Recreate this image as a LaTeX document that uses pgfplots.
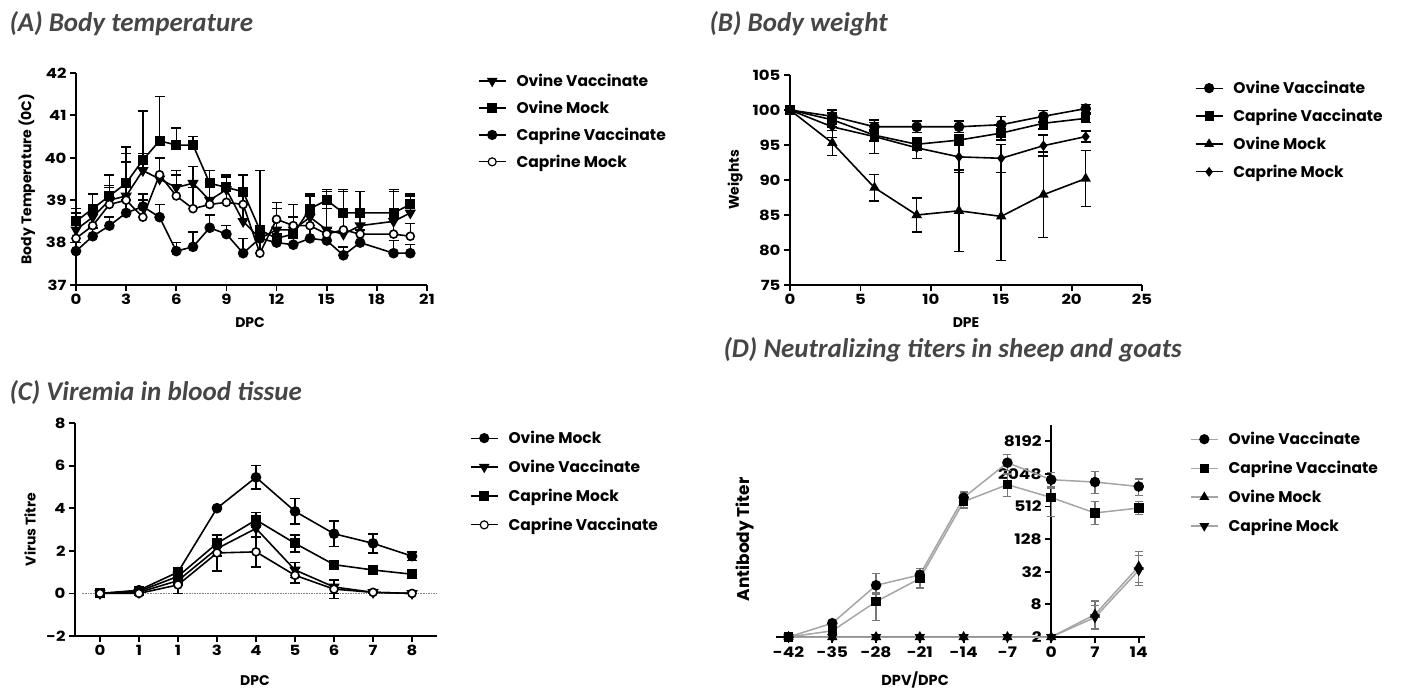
\documentclass[border=0pt]{standalone}
\usepackage{fontspec}
\setmainfont{Poppins}
\newfontfamily\tickfont{Poppins}[FakeStretch=1.18]
\newfontfamily\titlefont{Carlito}
\usepackage{pgfplots}
\pgfplotsset{compat=1.18}
\definecolor{titlegray}{RGB}{70,70,70}
\definecolor{dline}{RGB}{165,165,165}
\definecolor{dbar}{RGB}{120,120,120}
\newcommand\lblfont{\fontsize{14}{14}\selectfont\bfseries}
\begin{document}
\begin{tikzpicture}
\path[use as bounding box] (0pt,0pt) rectangle (1415pt,688pt);
\pgfplotsset{
  gp/.style={
    scale only axis,
    axis lines*=left,
    axis line style={line width=2pt},
    tick align=outside,
    major tick length=6pt,
    tick style={line width=1.8pt, black},
    ticklabel style={font=\tickfont\fontsize{14}{14}\selectfont\bfseries},
    /pgf/number format/assume math mode=true,
    legend style={draw=none, fill=none, anchor=north west, font=\fontsize{15.5}{15.5}\selectfont\bfseries, row sep=8pt, inner sep=0pt, legend cell align=left},
    legend image code/.code={\draw[mark repeat=2,mark phase=2,line width=1.2pt] plot coordinates {(0pt,0pt) (13.5pt,0pt) (27pt,0pt)}; \path (35pt,0pt);},
    every axis plot/.append style={line width=1.6pt, mark size=4.5pt},
    clip=false,
  },
  ebu/.style={/pgfplots/error bars/y dir=plus, /pgfplots/error bars/y explicit, /pgfplots/error bars/error bar style={line width=1.5pt}, /pgfplots/error bars/error mark options={rotate=90, mark size=5pt, line width=1.5pt}},
  ebb/.style={/pgfplots/error bars/y dir=both, /pgfplots/error bars/y explicit, /pgfplots/error bars/error bar style={line width=1.5pt}, /pgfplots/error bars/error mark options={rotate=90, mark size=5pt, line width=1.5pt}},
}
% ---------- titles ----------
\node[anchor=west, font=\titlefont\bfseries\itshape\fontsize{27}{27}\selectfont, text=titlegray] at (6pt,664pt) {(A) Body temperature};
\node[anchor=west, font=\titlefont\bfseries\itshape\fontsize{27}{27}\selectfont, text=titlegray] at (706pt,664pt) {(B) Body weight};
\node[anchor=west, font=\titlefont\bfseries\itshape\fontsize{27}{27}\selectfont, text=titlegray] at (6pt,295pt) {(C) Viremia in blood tissue};
\node[anchor=west, font=\titlefont\bfseries\itshape\fontsize{27}{27}\selectfont, text=titlegray] at (720pt,338pt) {(D) Neutralizing titers in sheep and goats};

% ---------- (A) ----------
\begin{axis}[gp, at={(76pt,403pt)}, anchor=south west, width=351pt, height=212pt,
  xmin=0, xmax=21, ymin=37, ymax=42,
  xtick={0,3,...,21}, ytick={37,38,...,42},
  xlabel={DPC}, ylabel={Body Temperature (0C)},
  every axis y label/.style={at={(axis description cs:-0.14,0.5)}, rotate=90, anchor=center, font=\lblfont},
  every axis x label/.style={at={(axis description cs:0.496,-0.175)}, anchor=center, font=\lblfont},
  legend style={at={(rel axis cs:1.145,1.005)}, row sep=9pt}]
\addplot[black, ebu, mark=triangle*, mark options={rotate=180, fill=black}, mark size=5pt] coordinates {
(0,38.3)+-(0,0.4) (1,38.6)+-(0,0.3) (2,39.0)+-(0,0.35) (3,39.1)+-(0,1.0) (4,39.7)+-(0,0.4)
(5,39.5)+-(0,0.5) (6,39.3)+-(0,0.4) (7,39.4)+-(0,0.4) (8,39.0)+-(0,0.4) (9,39.25)+-(0,0.3)
(10,38.5)+-(0,0.7) (11,38.1)+-(0,1.6) (12,38.3)+-(0,0.5) (13,38.3)+-(0,0.6) (14,38.6)+-(0,0.5)
(15,38.3)+-(0,0.9) (16,38.2)+-(0,1.0) (17,38.4)+-(0,0.8) (19,38.5)+-(0,0.7) (20,38.7)+-(0,0.4)};
\addlegendentry{Ovine Vaccinate}
\addplot[black, ebu, mark=square*, mark options={fill=black}, mark size=4.2pt] coordinates {
(0,38.5)+-(0,0.3) (1,38.8)+-(0,0.35) (2,39.1)+-(0,0.5) (3,39.4)+-(0,0.85) (4,39.95)+-(0,1.15)
(5,40.4)+-(0,1.05) (6,40.3)+-(0,0.4) (7,40.3)+-(0,0.2) (8,39.4)+-(0,0.3) (9,39.3)+-(0,0.3)
(10,39.2)+-(0,0.4) (11,38.3)+-(0,1.4) (12,38.1)+-(0,0.4) (13,38.2)+-(0,0.4) (14,38.8)+-(0,0.35)
(15,39.0)+-(0,0.25) (16,38.7)+-(0,0.55) (17,38.7)+-(0,0.5) (19,38.7)+-(0,0.55) (20,38.9)+-(0,0.25)};
\addlegendentry{Ovine Mock}
\addplot[black, ebu, mark=*, mark options={fill=black}] coordinates {
(0,37.8)+-(0,0.2) (1,38.15)+-(0,0.2) (2,38.4)+-(0,0.2) (3,38.7)+-(0,0.3) (4,38.85)+-(0,0.3)
(5,38.6)+-(0,0.3) (6,37.8)+-(0,0.2) (7,37.9)+-(0,0.35) (8,38.35)+-(0,0.3) (9,38.2)+-(0,0.2)
(10,37.75)+-(0,0.35) (11,38.1)+-(0,0.3) (12,38.0)+-(0,0.2) (13,37.95)+-(0,0.2) (14,38.1)+-(0,0.3)
(15,38.05)+-(0,0.3) (16,37.7)+-(0,0.2) (17,38.0)+-(0,0.3) (19,37.75)+-(0,0.3) (20,37.75)+-(0,0.2)};
\addlegendentry{Caprine Vaccinate}
\addplot[black, ebu, mark=*, mark options={fill=white}, mark size=4pt] coordinates {
(0,38.1)+-(0,0.3) (1,38.4)+-(0,0.4) (2,38.9)+-(0,0.4) (3,39.0)+-(0,0.9) (4,38.6)+-(0,0.4)
(5,39.6)+-(0,0.4) (6,39.1)+-(0,0.5) (7,38.8)+-(0,0.5) (8,38.9)+-(0,0.4) (9,38.95)+-(0,0.3)
(10,38.9)+-(0,0.3) (11,37.75)+-(0,0.4) (12,38.55)+-(0,0.4) (13,38.4)+-(0,0.5) (14,38.4)+-(0,0.5)
(15,38.2)+-(0,0.6) (16,38.3)+-(0,0.4) (17,38.2)+-(0,0.5) (19,38.2)+-(0,0.5) (20,38.15)+-(0,0.3)};
\addlegendentry{Caprine Mock}
\end{axis}

% ---------- (B) ----------
\begin{axis}[gp, at={(790pt,403pt)}, anchor=south west, width=352pt, height=210pt,
  xmin=0, xmax=25, ymin=75, ymax=105,
  xtick={0,5,...,25}, ytick={75,80,...,105},
  xlabel={DPE}, ylabel={Weights},
  every axis y label/.style={at={(axis description cs:-0.156,0.5)}, rotate=90, anchor=center, font=\lblfont},
  every axis x label/.style={at={(axis description cs:0.5,-0.18)}, anchor=center, font=\lblfont},
  legend style={at={(rel axis cs:1.15,0.981)}, row sep=10pt}]
\addplot[black, ebb, mark=*, mark options={fill=black}] coordinates {
(0,100)+-(0,0) (3,99.1)+-(0,0.9) (6,97.6)+-(0,0.6) (9,97.6)+-(0,0.8) (12,97.6)+-(0,0.8)
(15,97.9)+-(0,1.2) (18,99.1)+-(0,0.8) (21,100.2)+-(0,0.6)};
\addlegendentry{Ovine Vaccinate}
\addplot[black, ebb, mark=square*, mark options={fill=black}, mark size=4pt] coordinates {
(0,100)+-(0,0) (3,98.6)+-(0,1.0) (6,96.4)+-(0,0.8) (9,95.1)+-(0,0.8) (12,95.7)+-(0,0.8)
(15,96.7)+-(0,1.0) (18,98.1)+-(0,0.8) (21,98.8)+-(0,0.6)};
\addlegendentry{Caprine Vaccinate}
\addplot[black, ebb, mark=triangle*, mark options={fill=black}] coordinates {
(0,100)+-(0,0) (3,95.3)+-(0,1.8) (6,88.9)+-(0,1.9) (9,85.0)+-(0,2.4) (12,85.6)+-(0,5.8)
(15,84.8)+-(0,6.3) (18,87.9)+-(0,6.1) (21,90.2)+-(0,4.0)};
\addlegendentry{Ovine Mock}
\addplot[black, ebb, mark=diamond*, mark options={fill=black}, mark size=4pt] coordinates {
(0,100)+-(0,0) (3,97.6)+-(0,1.5) (6,96.2)+-(0,2.4) (9,94.6)+-(0,1.5) (12,93.3)+-(0,2.2)
(15,93.1)+-(0,2.0) (18,94.9)+-(0,1.5) (21,96.2)+-(0,0.8)};
\addlegendentry{Caprine Mock}
\end{axis}

% ---------- (C) ----------
\begin{axis}[gp, at={(75pt,52pt)}, anchor=south west, width=362pt, height=213pt,
  xmin=-0.64, xmax=8.64, ymin=-2, ymax=8,
  xtick={0,...,8}, xticklabels={0,1,1,3,4,5,6,7,8}, ytick={-2,0,...,8},
  xlabel={DPC}, ylabel={Virus Titre},
  every axis y label/.style={at={(axis description cs:-0.124,0.5)}, rotate=90, anchor=center, font=\lblfont},
  every axis x label/.style={at={(axis description cs:0.497,-0.207)}, anchor=center, font=\lblfont},
  legend style={at={(rel axis cs:1.091,0.972)}, row sep=11pt}]
\addplot[forget plot, densely dotted, gray, line width=1.5pt, mark=none] coordinates {(-0.45,0) (8.64,0)};
\addplot[black, ebb, mark=*, mark options={fill=black}] coordinates {
(0,0)+-(0,0) (1,0.15)+-(0,0.05) (2,1.0)+-(0,0.2) (3,4.0)+-(0,0.05) (4,5.45)+-(0,0.55)
(5,3.85)+-(0,0.6) (6,2.8)+-(0,0.6) (7,2.35)+-(0,0.45) (8,1.75)+-(0,0.2)};
\addlegendentry{Ovine Mock}
\addplot[black, ebb, mark=triangle*, mark options={rotate=180, fill=black}, mark size=5pt] coordinates {
(0,0)+-(0,0) (1,0.05)+-(0,0.05) (2,0.6)+-(0,0.2) (3,2.1)+-(0,0.35) (4,3.05)+-(0,0.4)
(5,1.1)+-(0,0.35) (6,0.3)+-(0,0.3) (7,0.05)+-(0,0.05) (8,0)+-(0,0)};
\addlegendentry{Ovine Vaccinate}
\addplot[black, ebb, mark=square*, mark options={fill=black}, mark size=4.2pt] coordinates {
(0,0)+-(0,0) (1,0.1)+-(0,0.05) (2,0.8)+-(0,0.3) (3,2.35)+-(0,0.4) (4,3.45)+-(0,0.35)
(5,2.35)+-(0,0.4) (6,1.35)+-(0,0.2) (7,1.1)+-(0,0.15) (8,0.9)+-(0,0.1)};
\addlegendentry{Caprine Mock}
\addplot[black, ebb, mark=*, mark options={fill=white}, mark size=4pt] coordinates {
(0,0)+-(0,0) (1,0)+-(0,0.05) (2,0.4)+-(0,0.4) (3,1.9)+-(0,0.85) (4,1.95)+-(0,0.7)
(5,0.85)+-(0,0.35) (6,0.2)+-(0,0.45) (7,0.05)+-(0,0.05) (8,0)+-(0,0)};
\addlegendentry{Caprine Vaccinate}
\end{axis}

% ---------- (D) ----------
\begin{axis}[gp, at={(776pt,51pt)}, anchor=south west, width=369pt, height=212pt,
  axis x line*=bottom, axis y line*=middle,
  hide obscured x ticks=false, hide obscured y ticks=false,
  ymode=log, log basis y=2,
  xmin=-44, xmax=15, ymin=2, ymax=16384,
  xtick={-42,-35,...,14},
  ytick={2,8,32,128,512,2048,8192}, yticklabels={2,8,32,128,512,2048,8192},
  ticklabel style={font=\tickfont\fontsize{14.5}{14.5}\selectfont\bfseries},
  xlabel={DPV/DPC}, ylabel={Antibody Titer},
  every axis y label/.style={at={(axis description cs:-0.084,0.46)}, rotate=90, anchor=center, font=\fontsize{17}{17}\selectfont\bfseries},
  every axis x label/.style={at={(axis description cs:0.377,-0.203)}, anchor=center, font=\fontsize{14.5}{14.5}\selectfont\bfseries},
  legend style={at={(rel axis cs:1.122,0.976)}, row sep=11pt}]
\pgfplotsset{dd/.style={ebb, /pgfplots/error bars/error bar style={dbar, line width=1.3pt}, /pgfplots/error bars/error mark options={rotate=90, dbar, mark size=4pt, line width=1.3pt}}}
\addplot[dline, line width=1.5pt, dd, mark=*, mark options={black, fill=black}] coordinates {
(-42,2) (-35,3.6) (-28,18) += (0,12) -= (0,6) (-21,28) += (0,9) -= (0,8)
(-14,750) += (0,200) -= (0,150) (-7,3300) += (0,1400) -= (0,950)
(0,1600) += (0,600) -= (0,500) (7,1450) += (0,820) -= (0,560) (14,1200) += (0,460) -= (0,370)};
\addlegendentry{Ovine Vaccinate}
\addplot[dline, line width=1.5pt, dd, mark=square*, mark options={black, fill=black}, mark size=4pt] coordinates {
(-42,2) (-35,2.6) (-28,9) += (0,4) -= (0,5) (-21,24) += (0,9) -= (0,8)
(-14,630) += (0,200) -= (0,150) (-7,1300) += (0,750) -= (0,520)
(0,750) += (0,430) -= (0,410) (7,390) += (0,240) -= (0,150) (14,480) += (0,150) -= (0,120)};
\addlegendentry{Caprine Vaccinate}
\addplot[dline, line width=1.5pt, dd, mark=triangle*, mark options={black, fill=black}] coordinates {
(-42,2) (-35,2) (-28,2) (-21,2) (-14,2) (-7,2) (0,2)
(7,5.2) += (0,4) -= (0,2.3) (14,40) += (0,36) -= (0,20)};
\addlegendentry{Ovine Mock}
\addplot[dline, line width=1.5pt, dd, mark=triangle*, mark options={rotate=180, black, fill=black}] coordinates {
(-42,2) (-35,2) (-28,2) (-21,2) (-14,2) (-7,2) (0,2)
(7,4.6) += (0,3) -= (0,1.8) (14,34) += (0,30) -= (0,16)};
\addlegendentry{Caprine Mock}
\end{axis}
\end{tikzpicture}
\end{document}
